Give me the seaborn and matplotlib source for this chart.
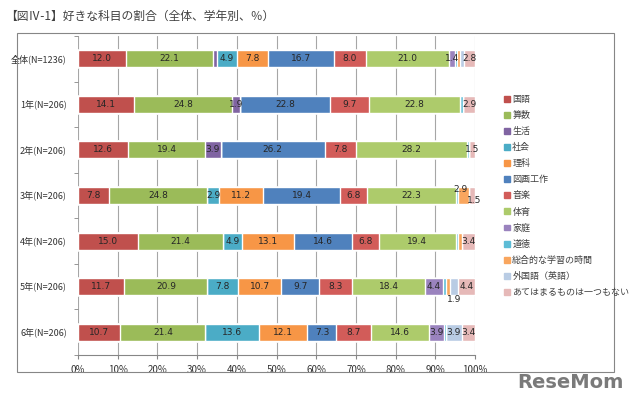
import numpy as np
import pandas as pd
import matplotlib.pyplot as plt
import matplotlib.patches as mpatches
import seaborn as sns

# data (%)
groups = ['全体(N=1236)', '1年(N=206)', '2年(N=206)', '3年(N=206)',
          '4年(N=206)', '5年(N=206)', '6年(N=206)']
subjects = ['国語', '算数', '生活', '社会', '理科', '図画工作', '音楽', '体育',
            '家庭', '道徳', '総合的な学習の時間', '外国語（英語）',
            'あてはまるものは一つもない']

kokugo   = [12.0, 14.1, 12.6, 7.8, 15.0, 11.7, 10.7]
sansu    = [22.1, 24.8, 19.4, 24.8, 21.4, 20.9, 21.4]
seikatsu = [1.0, 1.9, 3.9, 0.0, 0.0, 0.0, 0.0]
shakai   = [4.9, 0.0, 0.0, 2.9, 4.9, 7.8, 13.6]
rika     = [7.8, 0.0, 0.0, 11.2, 13.1, 10.7, 12.1]
zuga     = [16.7, 22.8, 26.2, 19.4, 14.6, 9.7, 7.3]
ongaku   = [8.0, 9.7, 7.8, 6.8, 6.8, 8.3, 8.7]
taiiku   = [21.0, 22.8, 28.2, 22.3, 19.4, 18.4, 14.6]
katei    = [1.4, 0.0, 0.0, 0.0, 0.0, 4.4, 3.9]
doutoku  = [0.5, 1.0, 0.4, 0.4, 0.5, 0.9, 0.4]
sougou   = [0.8, 0.0, 0.0, 2.9, 0.9, 0.9, 0.0]
gaikoku  = [1.0, 0.0, 0.0, 0.0, 0.0, 1.9, 3.9]
nashi    = [2.8, 2.9, 1.5, 1.5, 3.4, 4.4, 3.4]

values = [kokugo, sansu, seikatsu, shakai, rika, zuga, ongaku, taiiku,
          katei, doutoku, sougou, gaikoku, nashi]

colors = ['#C0504D', '#9BBB59', '#8064A2', '#4BACC6', '#F79646', '#4F81BD',
          '#D25C59', '#ADCB6B', '#9A83BE', '#5DBCD6', '#F9A65E', '#B9CCE4',
          '#E6B9B8']

df = pd.DataFrame(np.array(values).T, index=groups, columns=subjects)
cum = df.cumsum(axis=1)

sns.set_style('white')
plt.rcParams['font.family'] = ['Noto Sans CJK JP', 'DejaVu Sans']

fig = plt.figure(figsize=(6.4, 3.99), dpi=100)
ax = fig.add_axes([78 / 640, 1 - 355 / 399, 397 / 640, 319 / 399])

# stacked bars: draw cumulative totals from the last subject to the first
for i in range(len(subjects) - 1, -1, -1):
    d = pd.DataFrame({'group': groups, 'total': cum[subjects[i]].values})
    sns.barplot(data=d, x='total', y='group', color=colors[i], width=0.37,
                saturation=1, ax=ax, orient='h')

# value labels
offsets = {(3, 10): (-0.6, -0.13), (3, 12): (0.5, 0.12), (5, 11): (0, 0.28)}
for r in range(len(groups)):
    for c in range(len(subjects)):
        v = df.iloc[r, c]
        if v < 1.4:
            continue
        xc = cum.iloc[r, c] - v / 2
        dx, dy = offsets.get((r, c), (0, 0))
        ax.text(xc + dx, r + dy, f'{v:.1f}', ha='center', va='center',
                fontsize=6.5, color='#262626', family='DejaVu Sans')

ax.set_xlim(0, 100)
ax.set_ylim(len(groups) - 0.5, -0.5)
ax.set_xticks(np.arange(0, 101, 10))
ax.set_xticklabels([f'{t}%' for t in range(0, 101, 10)], fontsize=7, color='#333333')
ax.set_yticks(range(len(groups)))
ax.set_yticklabels(groups, fontsize=6.5, color='#333333')
ax.set_yticks(np.arange(-0.5, len(groups), 1), minor=True)
ax.set_xlabel('')
ax.set_ylabel('')
ax.xaxis.grid(True, color='#A6A6A6', lw=0.8)
ax.set_axisbelow(True)
for s in ['top', 'right', 'left']:
    ax.spines[s].set_visible(False)
ax.spines['bottom'].set_color('#868686')
ax.spines['bottom'].set_linewidth(0.8)
ax.tick_params(axis='x', length=3, color='#868686', pad=4, bottom=True)
ax.tick_params(axis='y', which='major', length=0, pad=8)
ax.tick_params(axis='y', which='minor', length=3, color='#868686', left=True)

# legend
handles = [mpatches.Patch(color=c, label=s) for s, c in zip(subjects, colors)]
fig.legend(handles=handles, loc='upper left', bbox_to_anchor=(496 / 640, 1 - 87 / 399),
           frameon=False, fontsize=6.5, handlelength=0.6, handleheight=0.6,
           handletextpad=0.3, labelspacing=0.78, labelcolor='#404040')

# chart frame
fig.add_artist(mpatches.Rectangle((17 / 640, 1 - 372 / 399), 597 / 640, 339 / 399,
                                  transform=fig.transFigure, fill=False,
                                  edgecolor='#868686', lw=0.8))

fig.text(5 / 640, 1 - 16 / 399, '【図Ⅳ-1】好きな科目の割合（全体、学年別、％）',
         fontsize=8.5, color='#404040', va='center')

fig.text(624 / 640, 1 - 383 / 399, 'ReseMom', fontsize=14, fontweight='bold',
         color='#7A7A7A', ha='right', va='center', family='Liberation Sans Narrow')

fig.savefig('out.png', dpi=100)
